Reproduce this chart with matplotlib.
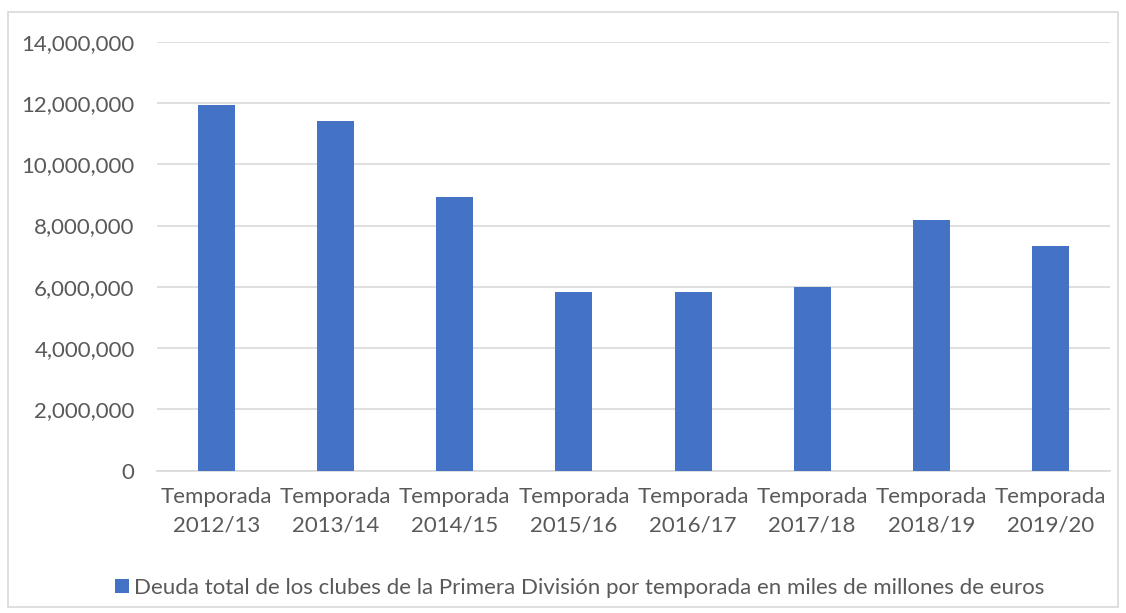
import numpy as np
import matplotlib.pyplot as plt
from matplotlib.patches import Rectangle
from matplotlib.ticker import FuncFormatter

# Datos
temporadas = ['2012/13', '2013/14', '2014/15', '2015/16',
              '2016/17', '2017/18', '2018/19', '2019/20']
deuda = [11930000, 11410000, 8940000, 5840000,
         5840000, 6010000, 8180000, 7320000]
y_ticks = [0, 2000000, 4000000, 6000000, 8000000, 10000000, 12000000, 14000000]
serie = 'Deuda total de los clubes de la Primera División por temporada en miles de millones de euros'

plt.rcParams['font.family'] = ['Lato', 'DejaVu Sans']
gris = '#595959'
azul = '#4472C4'
fs = 16

fig = plt.figure(figsize=(11.26, 6.13), dpi=100)
ax = fig.add_axes([0.1394, 0.232, 0.8464, 0.700])

x = np.arange(len(temporadas))
ax.bar(x, deuda, width=0.31, color=azul, label=serie, zorder=3)

ax.set_xlim(-0.5, len(temporadas) - 0.5)
ax.set_ylim(0, 14000000)
ax.set_yticks(y_ticks)
ax.yaxis.set_major_formatter(FuncFormatter(lambda v, p: f'{int(v):,}'))
ax.set_xticks(x)
ax.set_xticklabels(['Temporada\n' + t for t in temporadas], linespacing=1.5)
ax.tick_params(axis='both', length=0, labelsize=fs, colors=gris)
ax.tick_params(axis='x', pad=12)
ax.tick_params(axis='y', pad=16)
ax.grid(axis='y', color='#d9d9d9', linewidth=1.2, zorder=0)
for s in ['top', 'right', 'left']:
    ax.spines[s].set_visible(False)
ax.spines['bottom'].set_color('#d9d9d9')
ax.spines['bottom'].set_linewidth(1.2)

fig.legend(loc='center', bbox_to_anchor=(0.515, 0.041), frameon=False,
           fontsize=fs, labelcolor=gris, handlelength=0.6, handleheight=0.6,
           handletextpad=0.25)

# borde exterior del grafico
fig.patches.append(Rectangle((0.007, 0.01), 0.986, 0.97, transform=fig.transFigure,
                             fill=False, edgecolor='#d9d9d9', linewidth=1.2))

plt.savefig('out.png', dpi=100)
